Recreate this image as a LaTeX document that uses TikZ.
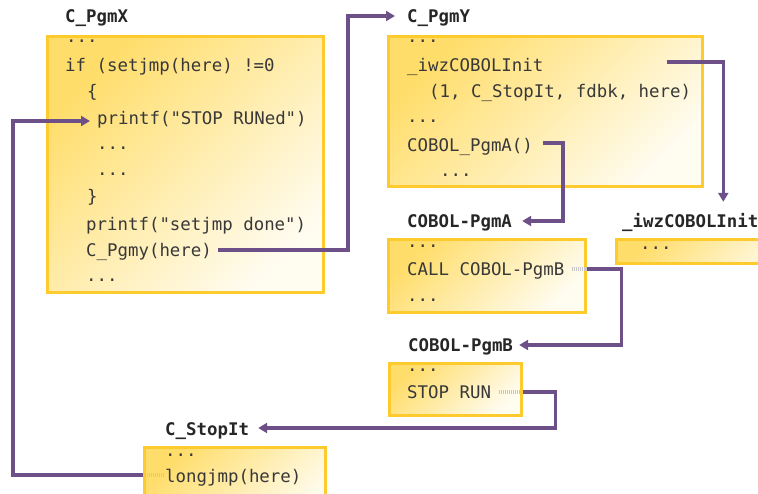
\documentclass[tikz,border=0pt]{standalone}
\usepackage{fontspec}
\setmonofont{DejaVu Sans Mono}
\usetikzlibrary{arrows.meta,calc}
\definecolor{boxgold}{HTML}{FDCB2E}
\definecolor{boxtint}{HTML}{FFDD6A}
\definecolor{boxpale}{HTML}{FFFCF0}
\definecolor{flowpurple}{HTML}{6E5088}
\definecolor{codegray}{HTML}{383838}

\tikzset{
  codebox/.style={draw=boxgold,line width=2.8pt,left color=boxtint,right color=boxpale,
    shading angle=45,anchor=north west,inner sep=0pt},
  code/.style={font=\ttfamily\fontsize{17.4}{20}\selectfont,text=codegray,inner sep=0pt,
    anchor=base west,text height=14pt,text depth=0pt},
  title/.style={code,font=\ttfamily\bfseries\fontsize{17.4}{20}\selectfont,text=black!85},
  flow/.style={draw=flowpurple,line width=3.3pt,-{Triangle[length=9pt,width=10pt]}},
  stub/.style={draw=black!22,line width=3.3pt,dash pattern=on 1pt off 1pt},
}

\begin{document}
\begin{tikzpicture}[x=1pt,y=-1pt]
  \useasboundingbox (0,0) rectangle (758,494);
  \clip (0,0) rectangle (758,494);

  % the boxes
  \node[codebox,minimum width=276,minimum height=256] (boxX) at (46,35) {};
  \node[codebox,minimum width=314,minimum height=150] (boxY) at (387,35) {};
  \node[codebox,minimum width=200,minimum height=24] (boxI) at (615,238) {};
  \node[codebox,minimum width=197,minimum height=73] (boxA) at (387,238) {};
  \node[codebox,minimum width=132,minimum height=52] (boxB) at (388,362) {};
  \node[codebox,minimum width=181,minimum height=80] (boxS) at (143,446) {};

  % titles
  \node[title] (lblX) at (65,23) {C\_PgmX};
  \node[title] (lblY) at (407,23) {C\_PgmY};
  \node[title] (lblA) at (407,228) {COBOL-PgmA};
  \node[title] (lblI) at (622,228) {\_iwzCOBOLInit};
  \node[title] (lblB) at (408,352) {COBOL-PgmB};
  \node[title] (lblS) at (165,435) {C\_StopIt};

  % C_PgmX
  \node[code] (xdots1) at (66,43) {...};
  \node[code] (xif) at (65,72) {if (setjmp(here) !=0};
  \node[code] (xopen) at (87,98) {\{};
  \node[code] (xstop) at (97,125) {printf("STOP RUNed")};
  \node[code] (xdots2) at (97,150) {...};
  \node[code] (xdots3) at (97,176) {...};
  \node[code] (xclose) at (87,203) {\}};
  \node[code] (xdone) at (86,231) {printf("setjmp done")};
  \node[code] (xcall) at (86,257) {C\_Pgmy(here)};
  \node[code] (xdots4) at (86,282) {...};

  % C_PgmY
  \node[code] (ydots1) at (407,43) {...};
  \node[code] (yinit) at (407,72) {\_iwzCOBOLInit};
  \node[code] (yargs) at (429,98) {(1, C\_StopIt, fdbk, here)};
  \node[code] (ydots2) at (407,123) {...};
  \node[code] (ycall) at (407,152) {COBOL\_PgmA()};
  \node[code] (ydots3) at (440,177) {...};

  % the others
  \node[code] (idots) at (640,250) {...};
  \node[code] (adots1) at (407,248) {...};
  \node[code] (acall) at (407,276) {CALL COBOL-PgmB};
  \node[code] (adots2) at (407,302) {...};
  \node[code] (bdots) at (407,372) {...};
  \node[code] (bstop) at (407,399) {STOP RUN};
  \node[code] (sdots) at (165,456) {...};
  \node[code] (slong) at (165,482) {longjmp(here)};

  % control flow
  \draw[flow] ([xshift=6pt]xcall.east) -- ++(130,0) |- ([xshift=-12pt]lblY.west);
  \draw[flow] ([xshift=123pt,yshift=3pt]yinit.east) -| ([xshift=33pt,yshift=12pt]lblI.north);
  \draw[flow] ([xshift=10pt,yshift=2pt]ycall.east) -- ++(20,0) |- ([xshift=10pt]lblA.east);
  \draw[stub] ([xshift=7pt]acall.east) -- (boxA.east |- acall);
  \draw[flow] (boxA.east |- acall) -- ++(35,0) |- ([xshift=6pt]lblB.east);
  \draw[stub] ([xshift=8pt]bstop.east) -- (boxB.east |- bstop);
  \draw[flow] (boxB.east |- bstop) -- ++(33,0) |- ([xshift=9pt]lblS.east);
  \draw[stub] (boxS.west |- slong) -- (slong.west);
  \draw[flow] (boxS.west |- slong) -- ++(-130,0) |- ([xshift=-7pt,yshift=-3pt]xstop.west);
\end{tikzpicture}
\end{document}
